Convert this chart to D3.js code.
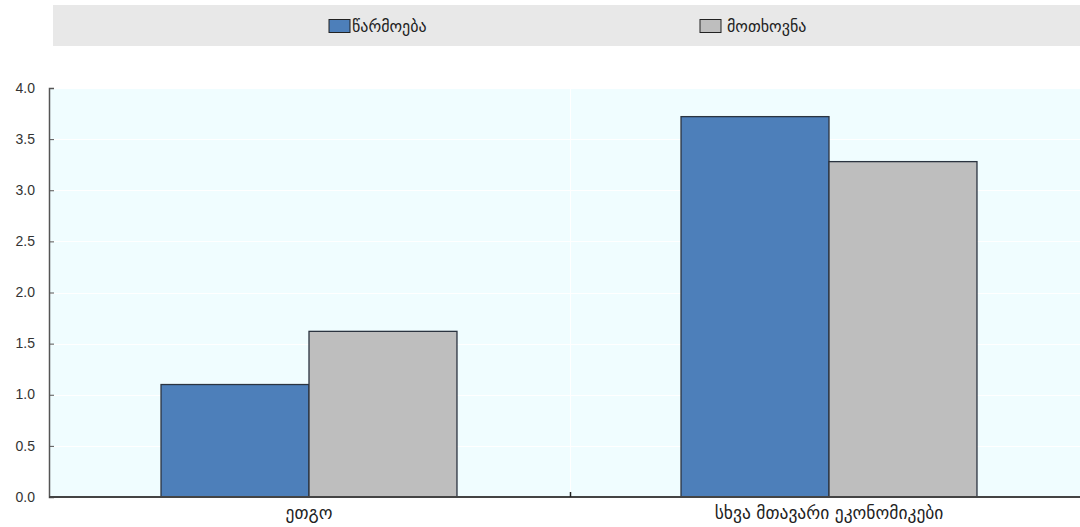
<!DOCTYPE html>
<html><head><meta charset="utf-8">
<script src="https://cdn.jsdelivr.net/npm/d3@7"></script>
<style>body{margin:0;background:#fff}svg{display:block;font-family:"Liberation Sans",Arial,sans-serif}</style>
</head><body>
<svg id="c" width="1080" height="527"></svg>
<script>
const categories = ["ეთგო", "სხვა მთავარი ეკონომიკები"];
const seriesNames = ["წარმოება", "მოთხოვნა"];
const production = [1.10, 3.72];
const demand = [1.62, 3.28];
const yTicks = [0, 0.5, 1.0, 1.5, 2.0, 2.5, 3.0, 3.5, 4.0];
const colors = ["#4d7fba", "#bebebe"];

(function () {
const svg = d3.select("#c");
const mLeft = 49, mRight = 1089, mTop = 88, mBottom = 497;

// legend
svg.append("rect").attr("x", 53).attr("y", 5).attr("width", 1027).attr("height", 41).attr("fill", "#e8e8e8");
const legX = [329, 700];
seriesNames.forEach((n, i) => {
  svg.append("rect").attr("x", legX[i]).attr("y", 19.5).attr("width", 21).attr("height", 13)
    .attr("fill", colors[i]).attr("stroke", "#222").attr("stroke-width", 1);
  svg.append("text").attr("x", legX[i] + 23 + (i ? 4 : 0)).attr("y", 32).attr("font-size", 16)
    .attr("font-family", "DejaVu Sans").attr("fill", "#222").text(n);
});

const x0 = d3.scaleBand().domain(categories).range([mLeft, mRight]).paddingInner(0).paddingOuter(0);
const x1 = d3.scaleBand().domain(seriesNames).range([0, x0.bandwidth()]).paddingInner(0).paddingOuter(0.757);
const y = d3.scaleLinear().domain([0, 4]).range([mBottom, mTop]);

svg.append("rect").attr("x", mLeft).attr("y", mTop).attr("width", 1080 - mLeft).attr("height", mBottom - mTop).attr("fill", "#f0fdff");
// gridlines
svg.append("g").selectAll("line").data(yTicks.slice(1)).join("line")
  .attr("x1", mLeft).attr("x2", 1080).attr("y1", d => Math.round(y(d)) + 0.5).attr("y2", d => Math.round(y(d)) + 0.5)
  .attr("stroke", "#ffffff").attr("stroke-width", 1);
svg.append("line").attr("x1", 570.5).attr("x2", 570.5).attr("y1", mTop).attr("y2", mBottom).attr("stroke", "#fff");

const data = [production, demand];
categories.forEach((c, ci) => {
  seriesNames.forEach((s, si) => {
    const v = data[si][ci];
    svg.append("rect")
      .attr("x", x0(c) + x1(s)).attr("y", y(v))
      .attr("width", x1.bandwidth()).attr("height", y(0) - y(v))
      .attr("fill", colors[si]).attr("stroke", "#2b3440").attr("stroke-width", 1.3);
  });
});

// y axis
const ya = svg.append("g").attr("transform", `translate(${mLeft},0)`)
  .call(d3.axisRight(y).tickValues(yTicks).tickSize(5).tickFormat(d3.format(".1f")));
ya.select(".domain").attr("stroke", "#555").attr("stroke-width", 1.5);
ya.selectAll(".tick line").attr("stroke", "#555");
ya.selectAll("text").attr("x", -14).attr("dy", "0.3em").attr("text-anchor", "end").attr("font-size", 14).attr("fill", "#333");
ya.attr("font-family", null);

// x axis
const xa = svg.append("g").attr("transform", `translate(0,${mBottom})`)
  .call(d3.axisBottom(x0).tickSize(0));
xa.select(".domain").remove();
svg.append("line").attr("x1", mLeft).attr("x2", 1080).attr("y1", mBottom).attr("y2", mBottom).attr("stroke", "#444").attr("stroke-width", 2);
svg.append("line").attr("x1", 570.5).attr("x2", 570.5).attr("y1", mBottom).attr("y2", mBottom - 5).attr("stroke", "#222").attr("stroke-width", 1.5);
xa.selectAll("text").attr("y", 10).attr("font-size", 17.5).attr("font-family", "DejaVu Sans").attr("fill", "#222");
xa.attr("font-family", null);
})();
</script>
</body></html>
